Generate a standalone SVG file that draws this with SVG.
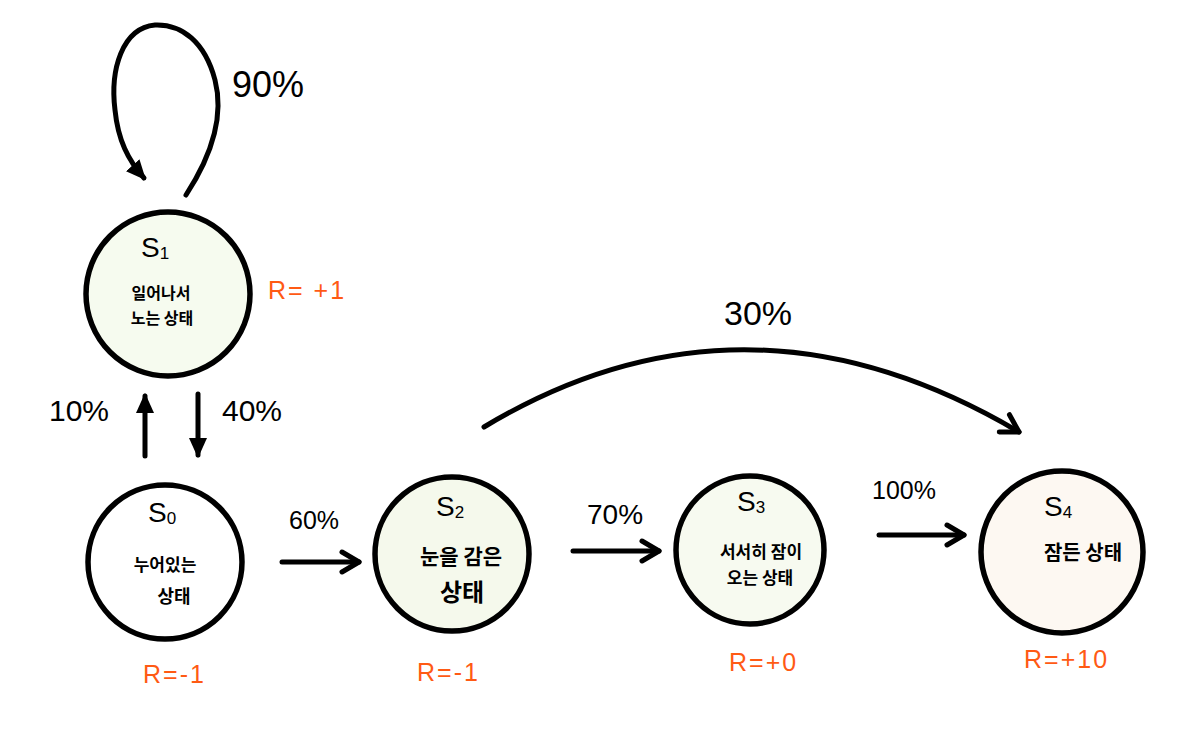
<svg xmlns="http://www.w3.org/2000/svg" width="1194" height="747" viewBox="0 0 1194 747">
<defs>
<marker id="tri" viewBox="0 0 20 20" refX="17" refY="10" markerWidth="20" markerHeight="20" markerUnits="userSpaceOnUse" orient="auto">
<path d="M0,1 L20,10 L0,19 z" fill="#000"/>
</marker>
<marker id="chev" viewBox="0 0 26 26" refX="21" refY="13" markerWidth="26" markerHeight="26" markerUnits="userSpaceOnUse" orient="auto" overflow="visible">
<path d="M4,3 L21,13 L4,23" fill="none" stroke="#000" stroke-width="5" stroke-linecap="round" stroke-linejoin="round"/>
</marker>
<style>
.node{stroke:#000;stroke-width:5.5}
.s{font-family:"Liberation Sans",sans-serif;font-size:28px;fill:#000}
.sub{font-size:17px}
.ko{font-family:"Noto Sans CJK KR",sans-serif;fill:#000;text-anchor:middle;font-weight:700}
.pct{font-family:"Liberation Sans",sans-serif;fill:#000}
.r{font-family:"Liberation Sans",sans-serif;font-size:25px;fill:#ff5a14;letter-spacing:2px}
.edge{fill:none;stroke:#000;stroke-width:5;stroke-linecap:round}
</style>
</defs>
<rect width="1194" height="747" fill="#fff"/>

<g id="edges">
<path class="edge" d="M186,195 C212,155 224,115 215,80 C205,42 182,24 155,25 C122,28 110,70 115,110 C118,140 128,160 144,178" marker-end="url(#tri)"/>
<line class="edge" x1="145" y1="456" x2="145" y2="396" marker-end="url(#tri)"/>
<line class="edge" x1="198" y1="394" x2="198" y2="455" marker-end="url(#tri)"/>
<line class="edge" x1="282" y1="562" x2="359" y2="562" marker-end="url(#chev)"/>
<line class="edge" x1="573" y1="551" x2="659" y2="551" marker-end="url(#chev)"/>
<line class="edge" x1="879" y1="535" x2="964" y2="535" marker-end="url(#chev)"/>
<path class="edge" d="M484,427 Q745,270 1019,432" marker-end="url(#chev)"/>
<text class="pct" x="232" y="97" font-size="36">90%</text>
<text class="pct" x="49" y="421" font-size="30">10%</text>
<text class="pct" x="222" y="421" font-size="30">40%</text>
<text class="pct" x="289" y="529" font-size="25">60%</text>
<text class="pct" x="587" y="524" font-size="28">70%</text>
<text class="pct" x="872" y="499" font-size="25">100%</text>
<text class="pct" x="724" y="325" font-size="34">30%</text>
</g>

<g id="S1">
<circle class="node" cx="168" cy="294" r="82" fill="#f6fbef"/>
<text class="s" x="141" y="257">S<tspan class="sub" dy="2">1</tspan></text>
<text class="ko" x="161" y="299" font-size="16">일어나서</text>
<text class="ko" x="162" y="324" font-size="16">노는 상태</text>
<text class="r" x="268" y="299">R= +1</text>
</g>

<g id="S0">
<circle class="node" cx="165" cy="562" r="77" fill="#fff"/>
<text class="s" x="148" y="522">S<tspan class="sub" dy="2">0</tspan></text>
<text class="ko" x="165" y="571" font-size="17">누어있는</text>
<text class="ko" x="174" y="603" font-size="18">상태</text>
<text class="r" x="143" y="683">R=-1</text>
</g>

<g id="S2">
<circle class="node" cx="452" cy="554" r="77" fill="#f5f9ec"/>
<text class="s" x="436" y="516">S<tspan class="sub" dy="2">2</tspan></text>
<text class="ko" x="461" y="564" font-size="21">눈을 감은</text>
<text class="ko" x="462" y="601" font-size="24">상태</text>
<text class="r" x="417" y="681">R=-1</text>
</g>

<g id="S3">
<circle class="node" cx="750" cy="550" r="74" fill="#f7faf0"/>
<text class="s" x="737" y="511">S<tspan class="sub" dy="2">3</tspan></text>
<text class="ko" x="761" y="558" font-size="17">서서히 잠이</text>
<text class="ko" x="760" y="584" font-size="17">오는 상태</text>
<text class="r" x="729" y="671">R=+0</text>
</g>

<g id="S4">
<circle class="node" cx="1062" cy="552" r="81" fill="#fdf8f2"/>
<text class="s" x="1044" y="516">S<tspan class="sub" dy="2">4</tspan></text>
<text class="ko" x="1083" y="560" font-size="20">잠든 상태</text>
<text class="r" x="1024" y="668">R=+10</text>
</g>
</svg>
